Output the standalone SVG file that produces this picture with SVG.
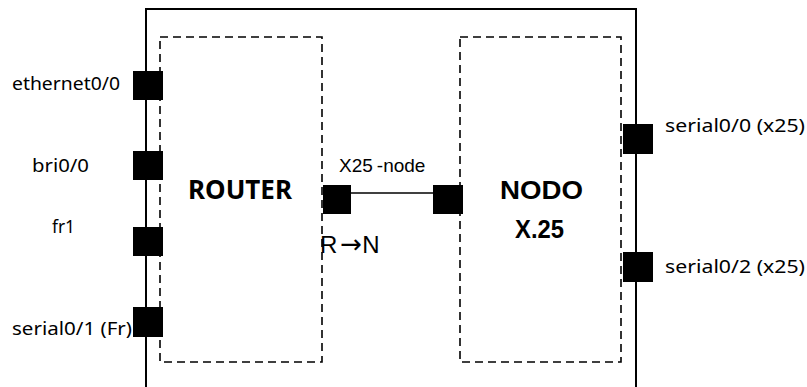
<svg xmlns="http://www.w3.org/2000/svg" width="807" height="387" viewBox="0 0 807 387">
  <style>
    .frame { fill: none; stroke: #000; stroke-width: 2; }
    .dash { fill: none; stroke: #000; stroke-width: 1.6; stroke-dasharray: 8 5; }
    .port { fill: #000; }
    .lbl { font-family: "Noto Sans", "Open Sans", sans-serif; font-size: 18px; fill: #000; }
    .title { font-family: "Noto Sans", "Open Sans", sans-serif; font-size: 26px; font-weight: bold; fill: #000; }
    .atitle { font-family: "Liberation Sans", Arial, sans-serif; font-size: 25px; font-weight: bold; fill: #000; }
    .alab { font-family: "Liberation Sans", Arial, sans-serif; fill: #000; }
    .conn { stroke: #000; stroke-width: 1.6; fill: none; }
  </style>
  <rect width="807" height="387" fill="#fff"/>
  <g id="device">
    <rect class="frame" x="146" y="9" width="490" height="400"/>
  </g>
  <g id="router">
    <rect class="dash" x="160" y="37" width="162" height="325"/>
    <text class="title" x="188" y="199" textLength="104" lengthAdjust="spacingAndGlyphs">ROUTER</text>
  </g>
  <g id="nodo">
    <rect class="dash" x="460" y="37" width="161" height="325"/>
    <text class="atitle" x="500" y="199" textLength="83" lengthAdjust="spacingAndGlyphs">NODO</text>
    <text class="atitle" x="515" y="238" textLength="49" lengthAdjust="spacingAndGlyphs">X.25</text>
  </g>
  <g id="port-ethernet0-0">
    <rect class="port" x="133" y="71" width="30" height="29"/>
    <text class="lbl" x="12" y="90" textLength="108" lengthAdjust="spacingAndGlyphs">ethernet0/0</text>
  </g>
  <g id="port-bri0-0">
    <rect class="port" x="133" y="151" width="30" height="29"/>
    <text class="lbl" x="32" y="172" textLength="57" lengthAdjust="spacingAndGlyphs">bri0/0</text>
  </g>
  <g id="port-fr1">
    <rect class="port" x="133" y="227" width="30" height="29"/>
    <text class="lbl" x="52" y="233" textLength="23" lengthAdjust="spacingAndGlyphs">fr1</text>
  </g>
  <g id="port-serial0-1">
    <rect class="port" x="133" y="307" width="30" height="30"/>
    <text class="lbl" x="12" y="335" textLength="120" lengthAdjust="spacingAndGlyphs">serial0/1 (Fr)</text>
  </g>
  <g id="port-serial0-0">
    <rect class="port" x="623" y="124" width="30" height="30"/>
    <text class="lbl" x="665" y="132" textLength="140" lengthAdjust="spacingAndGlyphs">serial0/0 (x25)</text>
  </g>
  <g id="port-serial0-2">
    <rect class="port" x="623" y="252" width="30" height="30"/>
    <text class="lbl" x="665" y="273" textLength="140" lengthAdjust="spacingAndGlyphs">serial0/2 (x25)</text>
  </g>
  <g id="port-r">
    <rect class="port" x="323" y="185" width="28" height="29"/>
  </g>
  <g id="port-n">
    <rect class="port" x="433" y="185" width="30" height="29"/>
  </g>
  <g id="connectors">
    <line class="conn" x1="351" y1="193" x2="433" y2="193"/>
    <text class="alab" x="339" y="172" font-size="19">X25<tspan dx="4">-node</tspan></text>
    <text class="alab" x="320" y="253" font-size="24">R<tspan dx="3" font-family="DejaVu Sans, sans-serif" font-size="26">→</tspan><tspan>N</tspan></text>
  </g>
</svg>
